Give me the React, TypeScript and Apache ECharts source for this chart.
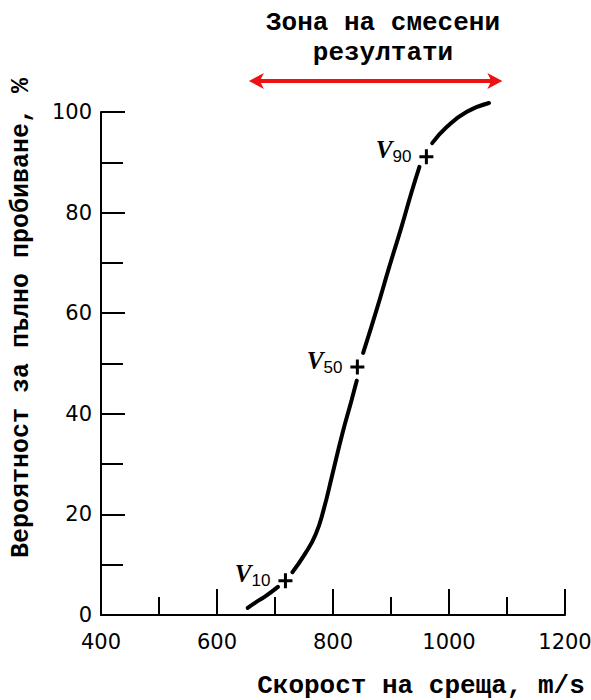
import React, { useEffect, useRef } from "react";
import * as echarts from "echarts";

// ---- data ----
const xTicks = [400, 600, 800, 1000, 1200];
const yTicks = [0, 20, 40, 60, 80, 100];
const segmentA = [[653, 1.4], [668, 2.6], [682, 3.6], [705, 5.6]];
const segmentB = [[730, 8.5], [752, 12.2], [770, 16], [784, 21], [799, 28], [816, 36], [832, 42.7], [841, 46.6]];
const segmentC = [[852, 52.1], [875, 60.6], [897, 69.2], [918, 77.1], [935, 83.9], [949, 89.1]];
const segmentD = [[971, 93.8], [996, 97.0], [1030, 100.0], [1069, 101.8]];
const markerNames = ["10", "50", "90"];
const markerPoints = [[718, 6.8], [842, 49.3], [961, 91.1]];
const zoneRange = [655, 1092];
const titleLines = ["Зона на смесени", "резултати"];
const xTitle = "Скорост на среща, m/s";
const yTitle = "Вероятност за пълно пробиване, %";

const MONO = "'Liberation Mono', 'DejaVu Sans Mono', monospace";
const SANS = "'DejaVu Sans', sans-serif";
const PLUS = "path://M0,6H14V9H0Z M5.5,0H8.5V15H5.5Z";

export default function App() {
  const ref = useRef<HTMLDivElement>(null);
  useEffect(() => {
    if (!ref.current) return;
    const chart = echarts.init(ref.current, null, { renderer: "svg" });
    const lineSeries = [segmentA, segmentB, segmentC, segmentD].map((seg) => ({
      type: "line",
      data: seg,
      smooth: 0.5,
      symbol: "none",
      clip: false,
      lineStyle: { color: "#000", width: 4, cap: "round" },
    }));
    chart.setOption({
      animation: false,
      grid: { left: 101, right: 26, top: 112, bottom: 85, outerBoundsMode: "none", containLabel: false },
      xAxis: {
        type: "value",
        min: xTicks[0],
        max: xTicks[xTicks.length - 1],
        interval: 200,
        axisLine: { show: true, lineStyle: { color: "#000", width: 2 } },
        axisTick: { show: true, inside: true, length: 26, lineStyle: { color: "#000", width: 2 } },
        minorTick: { show: true, splitNumber: 2, length: 18, lineStyle: { color: "#000", width: 2 } },
        splitLine: { show: false },
        axisLabel: { color: "#000", fontFamily: SANS, fontSize: 21, margin: 16, formatter: (v: number) => String(v) },
      },
      yAxis: {
        type: "value",
        min: yTicks[0],
        max: yTicks[yTicks.length - 1],
        interval: 20,
        axisLine: { show: true, lineStyle: { color: "#000", width: 2 } },
        axisTick: { show: true, inside: true, length: 24, lineStyle: { color: "#000", width: 2 } },
        minorTick: { show: true, splitNumber: 2, length: 22, lineStyle: { color: "#000", width: 2 } },
        splitLine: { show: false },
        axisLabel: { color: "#000", fontFamily: SANS, fontSize: 21, margin: 9, formatter: (v: number) => String(v) },
      },
      series: [
        ...lineSeries,
        {
          type: "scatter",
          data: markerPoints.map((p, i) => ({ value: p, name: markerNames[i] })),
          symbol: PLUS,
          symbolSize: [14, 15],
          clip: false,
          itemStyle: { color: "#000", opacity: 1 },
          label: {
            show: true,
            position: "left",
            distance: 8,
            formatter: (p: any) => `{v|V}{s|${p.name}}`,
            rich: {
              v: {
                fontFamily: "'Liberation Serif', serif",
                fontStyle: "italic",
                fontWeight: "bold",
                fontSize: 25,
                color: "#000",
                padding: [0, 0, 14, 0],
              },
              s: {
                fontFamily: "'Liberation Sans', sans-serif",
                fontSize: 17,
                color: "#000",
              },
            },
          },
        },
      ],
    });
    const left = chart.convertToPixel({ xAxisIndex: 0, yAxisIndex: 0 }, [zoneRange[0], 0]) as number[];
    const right = chart.convertToPixel({ xAxisIndex: 0, yAxisIndex: 0 }, [zoneRange[1], 0]) as number[];
    const ay = 81;
    const x1 = left[0];
    const x2 = right[0];
    const red = "#ee1111";
    chart.setOption({
      graphic: [
        {
          type: "text",
          x: 383,
          y: 23,
          style: { text: titleLines[0], font: `bold 26px ${MONO}`, fill: "#000", align: "center", verticalAlign: "middle" },
        },
        {
          type: "text",
          x: 383,
          y: 53,
          style: { text: titleLines[1], font: `bold 26px ${MONO}`, fill: "#000", align: "center", verticalAlign: "middle" },
        },
        {
          type: "line",
          shape: { x1: x1 + 8, y1: ay, x2: x2 - 8, y2: ay },
          style: { stroke: red, lineWidth: 4 },
        },
        {
          type: "polygon",
          shape: { points: [[x1, ay], [x1 + 15, ay - 8], [x1 + 11, ay], [x1 + 15, ay + 8]] },
          style: { fill: red },
        },
        {
          type: "polygon",
          shape: { points: [[x2, ay], [x2 - 15, ay - 8], [x2 - 11, ay], [x2 - 15, ay + 8]] },
          style: { fill: red },
        },
        {
          type: "text",
          x: 421,
          y: 686,
          style: { text: xTitle, font: `bold 26px ${MONO}`, fill: "#000", align: "center", verticalAlign: "middle" },
        },
        {
          type: "text",
          x: 21,
          y: 318,
          rotation: Math.PI / 2,
          style: { text: yTitle, font: `bold 25px ${MONO}`, fill: "#000", align: "center", verticalAlign: "middle" },
        },
      ],
    });
    return () => chart.dispose();
  }, []);
  return <div ref={ref} style={{ position: "fixed", left: 0, top: 0, width: 591, height: 700, background: "#fff" }} />;
}
